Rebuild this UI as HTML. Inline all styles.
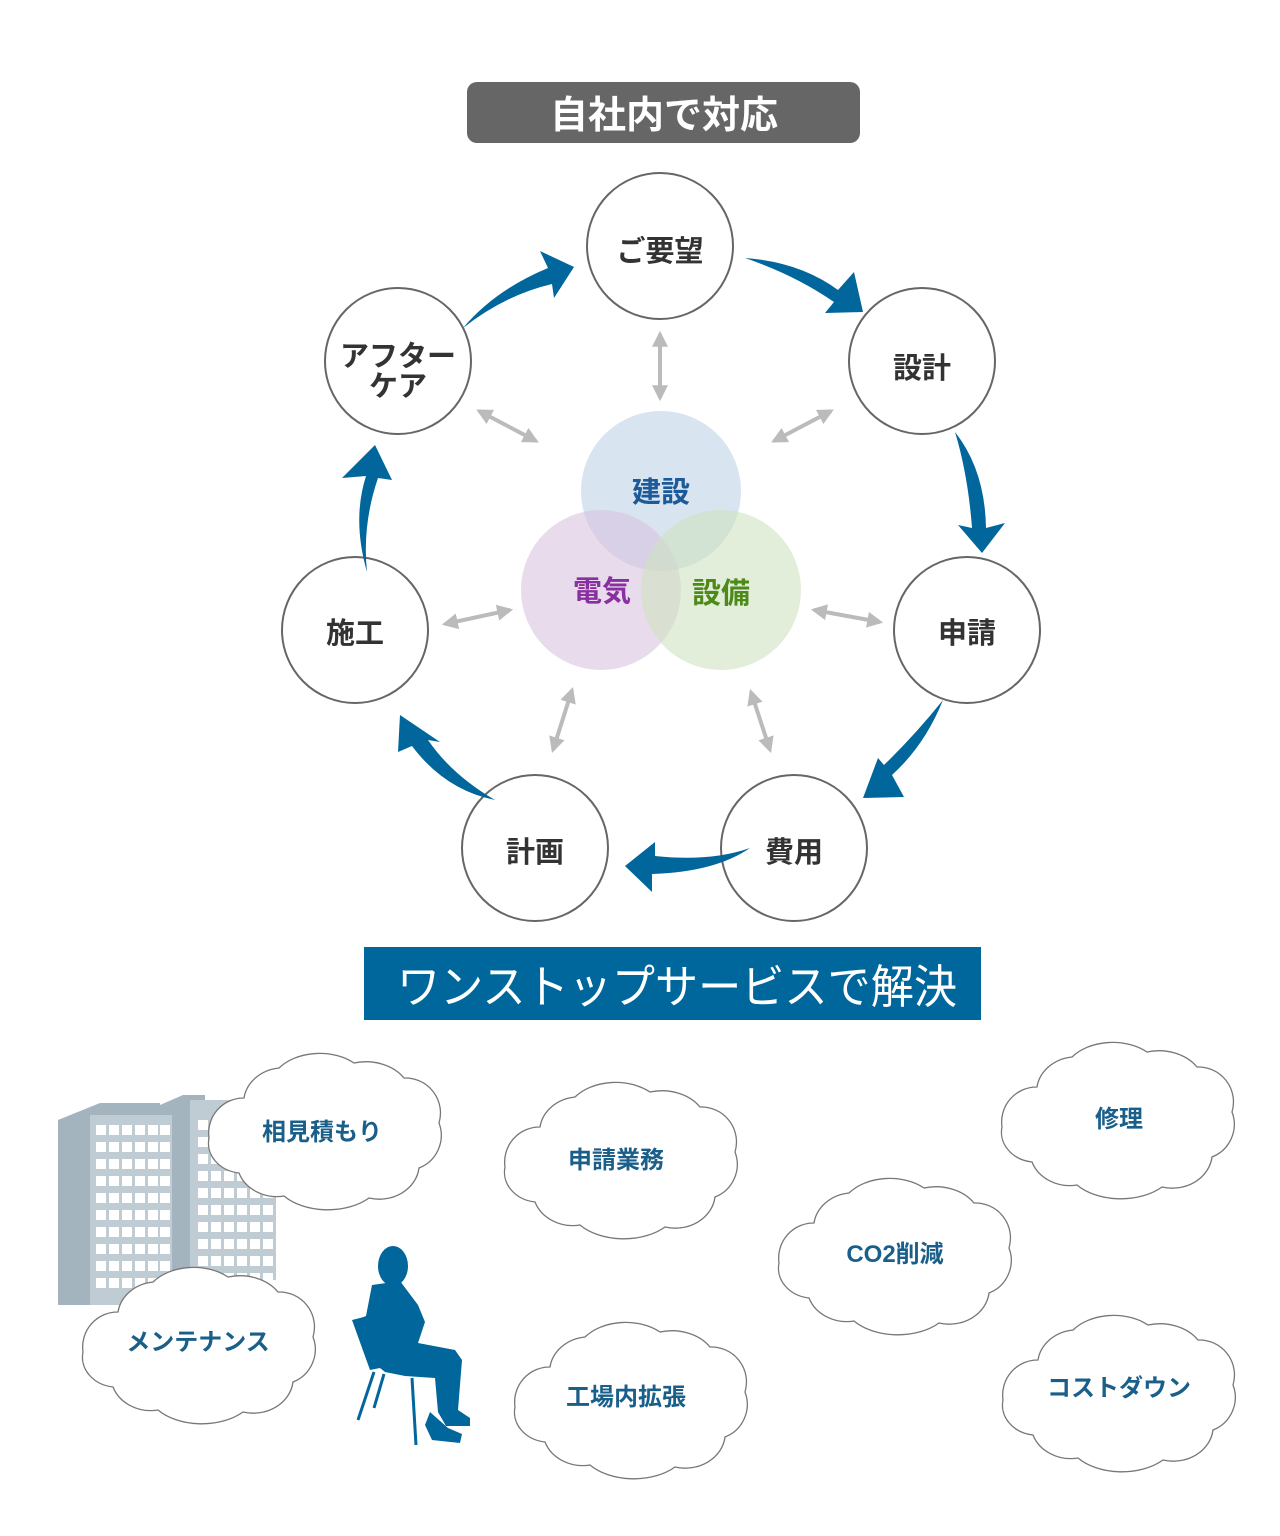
<!DOCTYPE html>
<html><head><meta charset="utf-8"><style>
html,body{margin:0;padding:0;background:#fff;}
svg{display:block;}
text{font-family:"Liberation Sans","Noto Sans CJK JP",sans-serif;}
</style></head><body>
<svg width="1280" height="1536" viewBox="0 0 1280 1536" xmlns="http://www.w3.org/2000/svg">
<defs>
<marker id="ah" viewBox="0 0 10 10" refX="8" refY="5" markerWidth="4" markerHeight="4" orient="auto-start-reverse"><path d="M0,0 L10,5 L0,10 Z" fill="#bbb"/></marker>
<path id="cloud" d="M40,50 A40,35 0 0 1 75,20 A50,35 0 0 1 150,15 A45,35 0 0 1 200,30 A35,35 0 0 1 235,75 A35,35 0 0 1 215,120 A40,35 0 0 1 165,150 A55,35 0 0 1 80,148 A40,35 0 0 1 35,125 A35,30 0 0 1 5,90 A35,35 0 0 1 40,50 Z" fill="#fff" stroke="#777" stroke-width="1.3"/>
</defs>

<rect x="467" y="82" width="393" height="61" rx="10" fill="#666"/>
<text x="664" y="128" font-size="38" font-weight="bold" fill="#fff" text-anchor="middle">自社内で対応</text>

<circle cx="661" cy="491" r="80" fill="#c7d9ea" opacity="0.7"/>
<circle cx="601" cy="590" r="80" fill="#d9c3df" opacity="0.6"/>
<circle cx="721" cy="590" r="80" fill="#cfe3bf" opacity="0.6"/>
<text x="661" y="502" font-size="29" font-weight="bold" fill="#1d5a9a" text-anchor="middle">建設</text>
<text x="602" y="601" font-size="29" font-weight="bold" fill="#8a2fa0" text-anchor="middle">電気</text>
<text x="721" y="603" font-size="29" font-weight="bold" fill="#4d8a1a" text-anchor="middle">設備</text>

<g stroke="#bbb" stroke-width="4" marker-start="url(#ah)" marker-end="url(#ah)">
<line x1="660" y1="334" x2="660" y2="398"/>
<line x1="479" y1="411" x2="536" y2="441"/>
<line x1="831" y1="411" x2="774" y2="441"/>
<line x1="445" y1="624" x2="510" y2="610"/>
<line x1="814" y1="610" x2="880" y2="622"/>
<line x1="572" y1="690" x2="553" y2="750"/>
<line x1="751" y1="692" x2="770" y2="750"/>
</g>

<g fill="#fff" stroke="#666" stroke-width="2">
<circle cx="660" cy="246" r="73"/>
<circle cx="922" cy="361" r="73"/>
<circle cx="967" cy="630" r="73"/>
<circle cx="794" cy="848" r="73"/>
<circle cx="535" cy="848" r="73"/>
<circle cx="355" cy="630" r="73"/>
<circle cx="398" cy="361" r="73"/>
</g>
<g font-size="29" font-weight="bold" fill="#333" text-anchor="middle">
<text x="660" y="261">ご要望</text>
<text x="922" y="378">設計</text>
<text x="967" y="643">申請</text>
<text x="794" y="862">費用</text>
<text x="535" y="862">計画</text>
<text x="355" y="643">施工</text>
<text x="398" y="366">アフター</text>
<text x="398" y="396">ケア</text>
</g>

<g fill="#00669b">
<path d="M463,328 Q495,290 548,268 L540,251 L574,267 L554,298 L552,284 Q505,295 463,328Z"/>
<path d="M745,258 Q800,262 838,290 L854,272 L863,312 L825,313 L834,302 Q795,275 745,258Z"/>
<path d="M955,432 Q985,470 986,528 L1005,523 L982,553 L958,525 L972,528 Q968,475 955,432Z"/>
<path d="M943,700 Q925,745 892,775 L904,797 L863,798 L878,758 L884,765 Q915,735 943,700Z"/>
<path d="M750,848 Q715,872 652,874 L652,892 L625,866 L655,842 L655,856 Q710,862 750,848Z"/>
<path d="M495,800 Q452,775 428,740 L440,742 L400,715 L398,752 L412,746 Q445,790 495,800Z"/>
<path d="M367,572 Q352,520 366,476 L342,478 L375,445 L392,480 L378,478 Q362,525 367,572Z"/>
</g>

<rect x="364" y="947" width="617" height="73" fill="#00679c"/>
<text x="397" y="1003" font-size="46" fill="#fff" textLength="560" lengthAdjust="spacingAndGlyphs">ワンストップサービスで解決</text>

<g>
<polygon points="160,1105 183,1095 205,1095 205,1280 160,1280" fill="#a3b4bf"/>
<rect x="190" y="1100" width="86" height="180" fill="#c0ccd4"/>
<polygon points="58,1120 100,1103 160,1103 160,1305 58,1305" fill="#a3b4bf"/>
<rect x="90" y="1115" width="82" height="190" fill="#c0ccd4"/>
<g fill="#fff">
<g id="wcol">
<rect x="96" y="1125" width="10" height="10"/><rect x="96" y="1142" width="10" height="10"/><rect x="96" y="1159" width="10" height="10"/><rect x="96" y="1176" width="10" height="10"/><rect x="96" y="1193" width="10" height="10"/><rect x="96" y="1210" width="10" height="10"/><rect x="96" y="1227" width="10" height="10"/><rect x="96" y="1244" width="10" height="10"/><rect x="96" y="1261" width="10" height="10"/><rect x="96" y="1278" width="10" height="10"/>
</g>
<use href="#wcol" x="13"/><use href="#wcol" x="26"/><use href="#wcol" x="39"/><use href="#wcol" x="52"/><use href="#wcol" x="64"/>
<use href="#wcol" x="102" y="-5"/><use href="#wcol" x="115" y="-5"/><use href="#wcol" x="128" y="-5"/><use href="#wcol" x="141" y="-5"/><use href="#wcol" x="154" y="-5"/><use href="#wcol" x="167" y="-5"/>
</g>
</g>

<g fill="#00669b">
<ellipse cx="393" cy="1266" rx="15" ry="20"/>
<path d="M372,1285 L400,1281 L418,1305 L425,1322 L418,1343 L455,1350 L462,1360 L458,1410 L470,1418 L470,1426 L446,1426 L438,1412 L435,1378 L405,1376 L385,1372 L370,1360 L358,1336 L356,1320 L366,1316 Z"/>
<path d="M430,1412 L448,1428 L462,1434 L460,1443 L432,1440 L425,1425 Z"/>
<path d="M352,1320 L368,1316 L380,1368 L370,1370 Z"/>
</g>
<g stroke="#00669b" stroke-width="3">
<line x1="374" y1="1372" x2="358" y2="1420"/>
<line x1="384" y1="1374" x2="374" y2="1408"/>
<line x1="412" y1="1378" x2="416" y2="1445"/>
</g>

<g font-size="24" font-weight="bold" fill="#1a5f8a" text-anchor="middle">
<use href="#cloud" x="204" y="1048"/><text x="322" y="1140">相見積もり</text>
<use href="#cloud" x="500" y="1077"/><text x="616" y="1168">申請業務</text>
<use href="#cloud" x="997" y="1037"/><text x="1119" y="1127">修理</text>
<use href="#cloud" x="774" y="1173"/><text x="895" y="1262">CO2削減</text>
<use href="#cloud" x="78" y="1262"/><text x="198" y="1350">メンテナンス</text>
<use href="#cloud" x="510" y="1317"/><text x="626" y="1405">工場内拡張</text>
<use href="#cloud" x="998" y="1310"/><text x="1119" y="1396">コストダウン</text>
</g>
</svg>
</body></html>
